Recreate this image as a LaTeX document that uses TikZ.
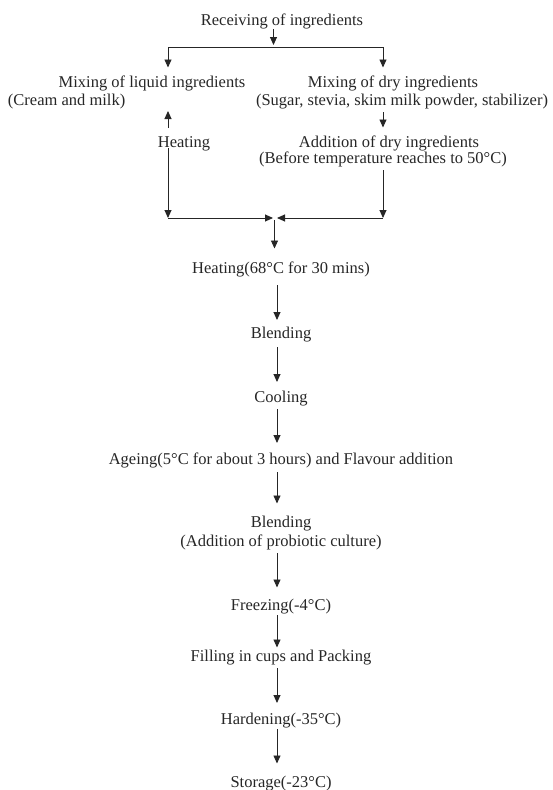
\documentclass[tikz,border=0pt]{standalone}
\usepackage{fontspec}
\setmainfont{Liberation Serif}
\usetikzlibrary{arrows.meta,calc}
\begin{document}
\begin{tikzpicture}[x=1pt,y=-1pt,
  lbl/.style={inner sep=0pt, outer sep=0pt, text height=11.5pt, text depth=4pt, anchor=base, text=black!85, font=\fontsize{16.5}{19}\selectfont},
  arr/.style={-{Triangle[length=8pt,width=7pt]}, line width=0.9pt, draw=black!85, shorten <=3pt, shorten >=8pt},
  ln/.style={line width=0.9pt, draw=black!85}]
\useasboundingbox (0,0) rectangle (552,790);
\node[lbl] (rec) at (282,25) {Receiving of ingredients};
\node[lbl] (liq1) at (152,87) {Mixing of liquid ingredients};
\node[lbl,anchor=base west] (liq2) at (8,105) {(Cream and milk)};
\node[lbl] (dry1) at (393,87) {Mixing of dry ingredients};
\node[lbl] (dry2) at (402,105) {(Sugar, stevia, skim milk powder, stabilizer)};
\node[lbl] (heat1) at (184,147) {Heating};
\node[lbl] (add1) at (389,147) {Addition of dry ingredients};
\node[lbl] (add2) at (383,163) {(Before temperature reaches to 50°C)};
\node[lbl] (heat2) at (281,273) {Heating(68°C for 30 mins)};
\node[lbl] (bl1) at (281,338) {Blending};
\node[lbl] (cool) at (281,402) {Cooling};
\node[lbl] (age) at (281,464) {Ageing(5°C for about 3 hours) and Flavour addition};
\node[lbl] (bl2) at (281,527) {Blending};
\node[lbl] (bl2b) at (281,546) {(Addition of probiotic culture)};
\node[lbl] (frz) at (281,610) {Freezing(-4°C)};
\node[lbl] (fill) at (281,661) {Filling in cups and Packing};
\node[lbl] (hard) at (281,724) {Hardening(-35°C)};
\node[lbl] (stor) at (281,787) {Storage(-23°C)};
\coordinate (s) at (273.5,47);
\coordinate (l1) at (168,47);
\coordinate (r1) at (383,47);
\coordinate (lc) at (168,218);
\coordinate (rc) at (383,218);
\coordinate (mc) at (274.5,218);
\coordinate (ax) at (277,0);
\draw[arr, shorten <=0pt, shorten >=2pt] (rec.south -| s) -- (s);
\draw[ln] (l1) -- (r1);
\draw[arr, shorten <=0pt] (l1) -- (l1 |- liq1.north);
\draw[arr, shorten <=0pt] (r1) -- (r1 |- dry1.north);
\draw[arr] (dry2.south -| r1) -- (add1.north -| r1);
\draw[arr, shorten <=7.5pt, shorten >=2pt] (heat1.north -| l1) -- (liq2.south -| l1);
\draw[arr, shorten <=-3pt, shorten >=0pt] (heat1.south -| l1) -- (lc);
\draw[arr, shorten >=0pt] (add2.south -| r1) -- (rc);
\draw[arr, shorten <=0pt, shorten >=0pt] (lc) -- ($(mc)+(-1.5,0)$);
\draw[arr, shorten <=0pt, shorten >=0pt] (rc) -- ($(mc)+(2.5,0)$);
\draw[arr, shorten <=2pt, shorten >=13pt] (mc) -- (heat2.north -| mc);
\draw[arr, shorten <=8pt, shorten >=6.5pt] (heat2.south -| ax) -- (bl1.north -| ax);
\draw[arr, shorten <=5pt, shorten >=8.5pt] (bl1.south -| ax) -- (cool.north -| ax);
\draw[arr, shorten <=3pt, shorten >=9.5pt] (cool.south -| ax) -- (age.north -| ax);
\draw[arr, shorten <=4pt, shorten >=12pt] (age.south -| ax) -- (bl2.north -| ax);
\draw[arr, shorten <=3pt, shorten >=11pt] (bl2b.south -| ax) -- (frz.north -| ax);
\draw[arr, shorten <=1pt, shorten >=2pt] (frz.south -| ax) -- (fill.north -| ax);
\draw[arr, shorten <=3pt, shorten >=9.5pt] (fill.south -| ax) -- (hard.north -| ax);
\draw[arr, shorten <=1pt, shorten >=12pt] (hard.south -| ax) -- (stor.north -| ax);
\end{tikzpicture}
\end{document}
